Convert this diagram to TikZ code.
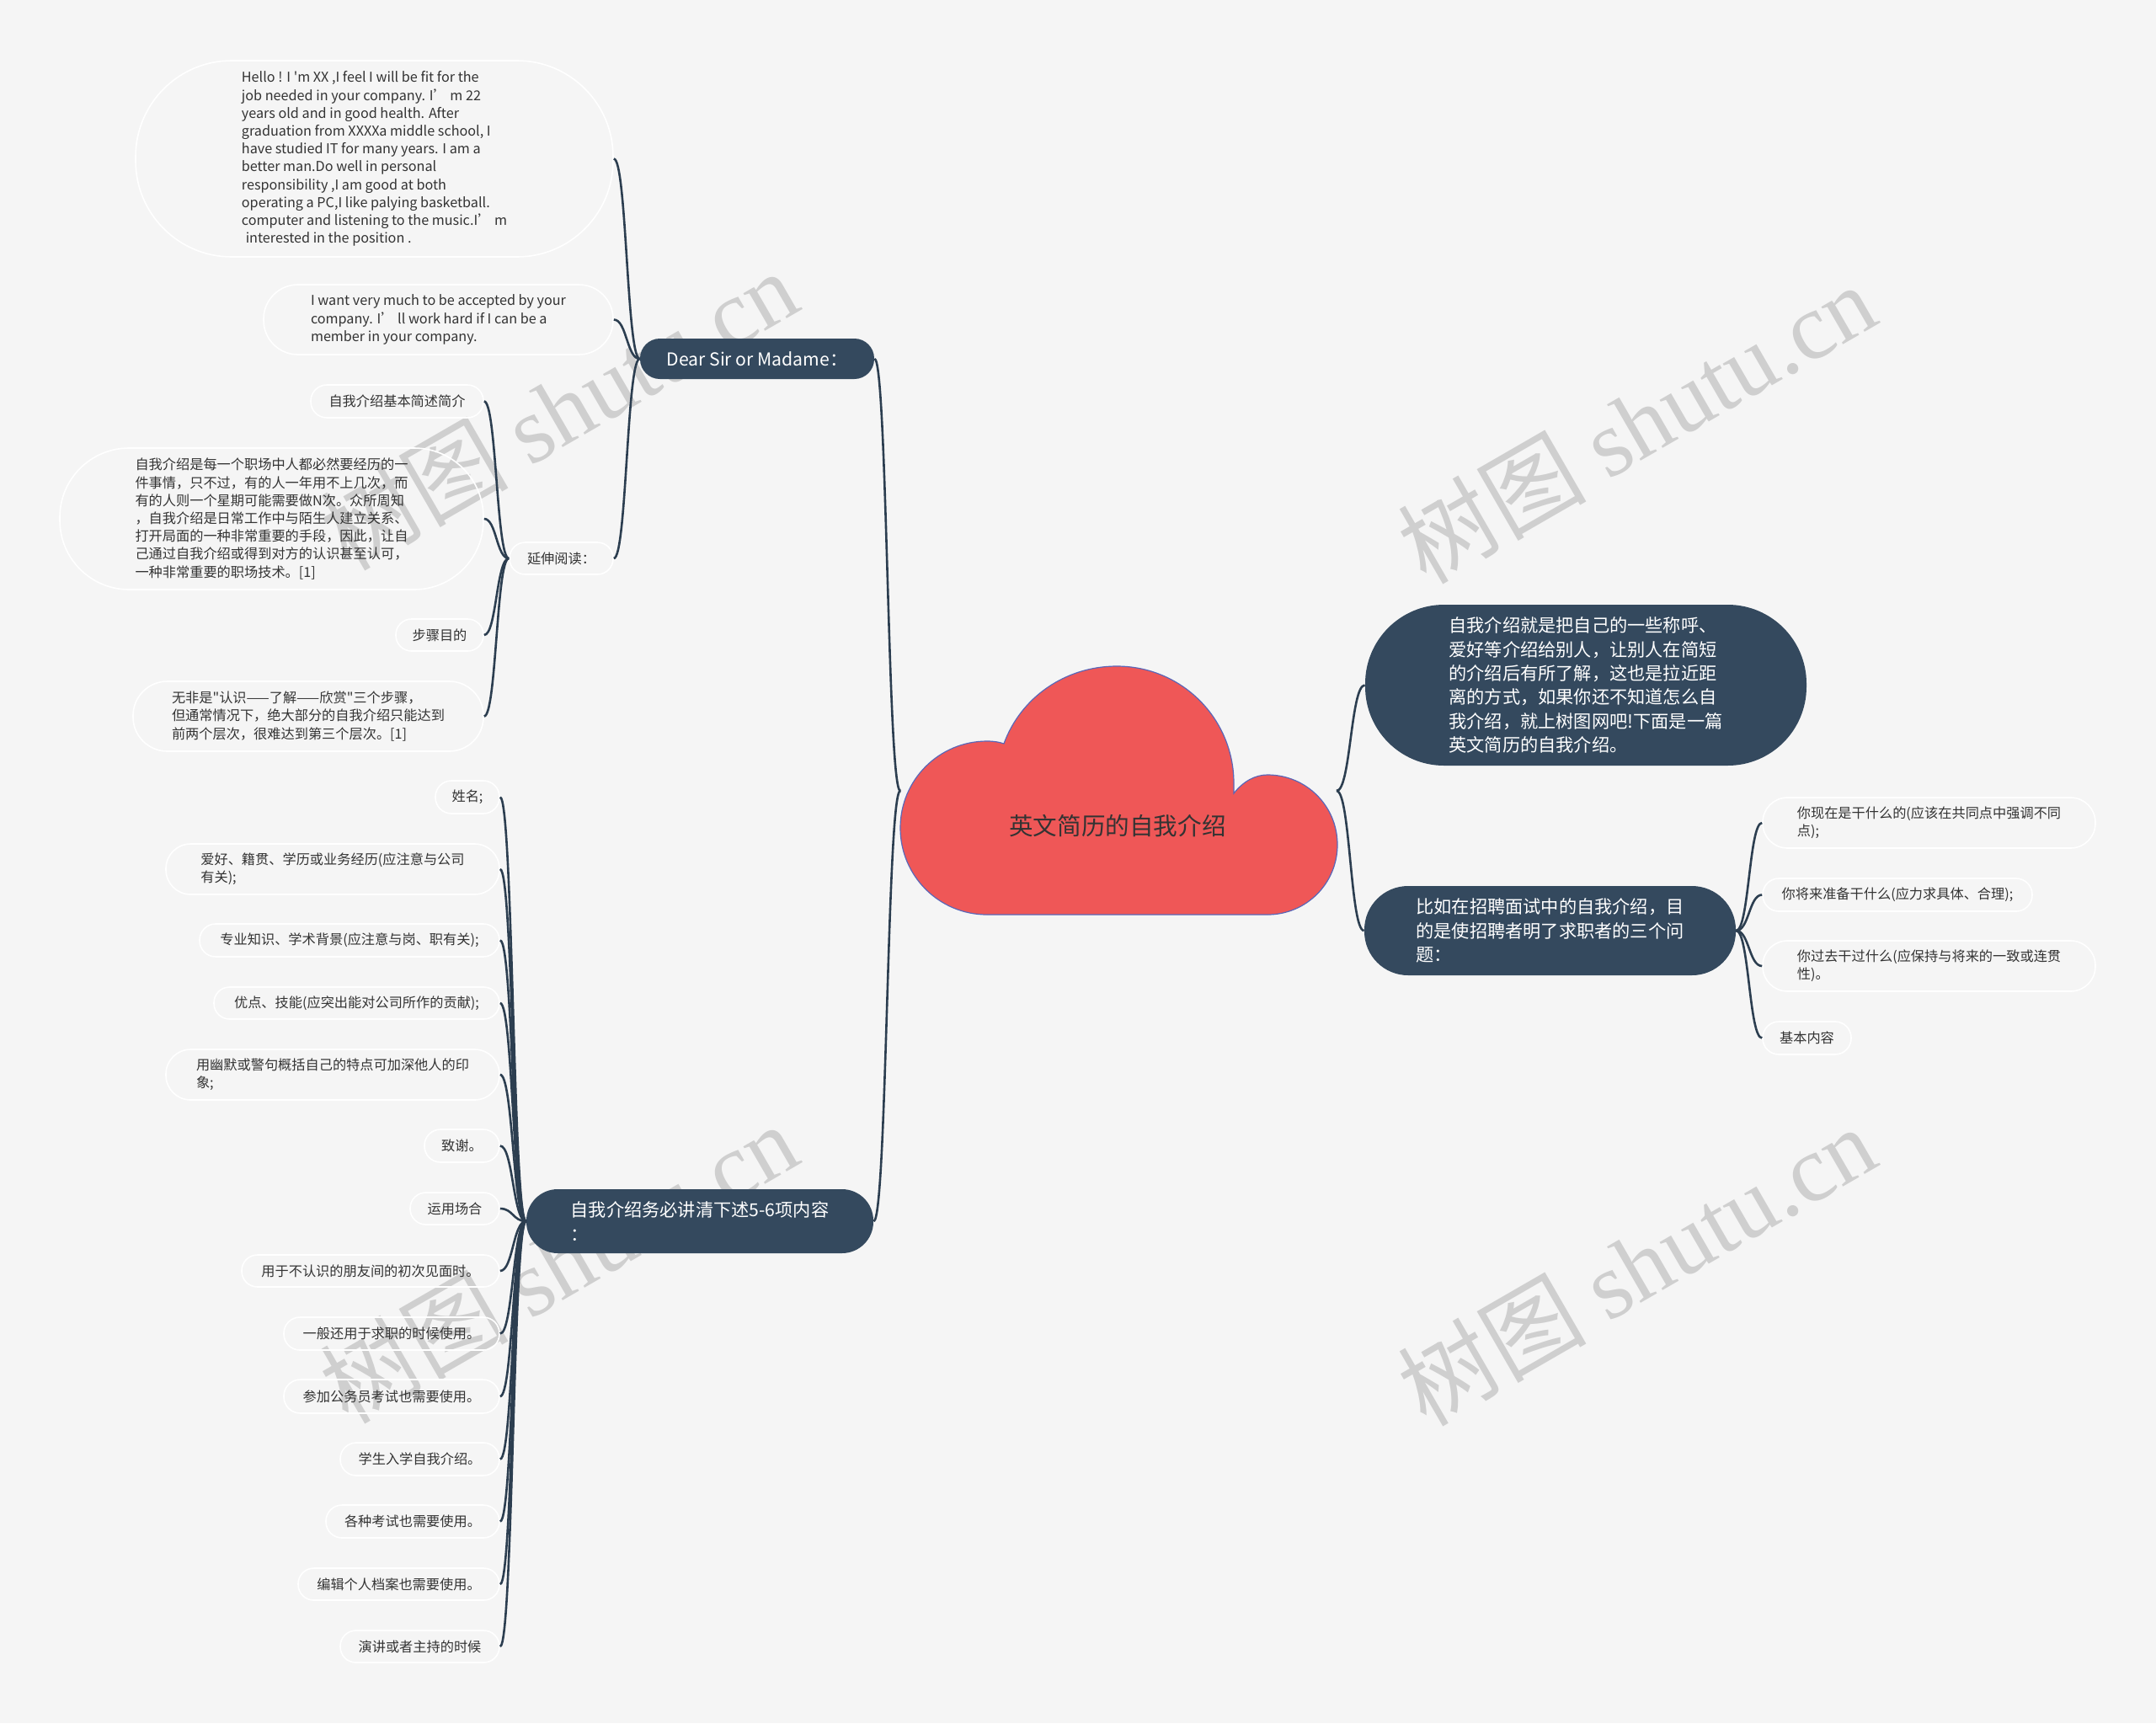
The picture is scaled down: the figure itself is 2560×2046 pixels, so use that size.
\documentclass[tikz,border=0pt]{standalone}
\usepackage{fontspec}
\newfontfamily\cjkfont{Noto Sans CJK SC}
\newfontfamily\wmserif{Liberation Serif}
\usetikzlibrary{calc}
\definecolor{bg}{HTML}{F5F5F5}
\definecolor{navy}{HTML}{34495E}
\definecolor{linec}{HTML}{2C3E50}
\definecolor{cloudred}{HTML}{EF5757}
\definecolor{cloudedge}{HTML}{5A67B8}
\definecolor{txt}{HTML}{333333}
\definecolor{wm}{HTML}{CFCFCF}
\newcommand\conn[2]{\draw[link] let \p1=(#1), \p2=(#2) in (\p1) .. controls ({(\x1+\x2)/2},\y1) and ({(\x1+\x2)/2},\y2) .. (\p2);}
\begin{document}
\begin{tikzpicture}[x=0.5pt,y=-0.5pt,
  link/.style={draw=linec, line width=1.3pt},
  sz/.style 2 args={minimum width={#1*0.5pt}, minimum height={#2*0.5pt}, rounded corners={#2*0.245pt}},
  main/.style={fill=navy, text=white, inner sep=0pt, align=left, font=\cjkfont\fontsize{10.6pt}{14.2pt}\selectfont},
  leaf/.style={draw=white, line width=0.8pt, text=txt, inner sep=0pt, align=left, font=\cjkfont\fontsize{8.1pt}{10.6pt}\selectfont},
  wmark/.style={text=wm, rotate=30, font=\cjkfont\fontsize{56pt}{60pt}\selectfont, inner sep=0pt},
]
\fill[bg] (0,0) rectangle (2560,2046);
\useasboundingbox (0,0) rectangle (2560,2046);

% watermarks
\node[wmark] (wm1) at (663,486) {树图 {\wmserif shutu.cn}};
\node[wmark] (wm2) at (1943,502) {树图 {\wmserif shutu.cn}};
\node[wmark] (wm3) at (663,1499) {树图 {\wmserif shutu.cn}};
\node[wmark] (wm4) at (1943,1502) {树图 {\wmserif shutu.cn}};

% cloud
\draw[fill=cloudred, draw=cloudedge, line width=0.6pt]
  (1172,1086) .. controls (1115,1086) and (1069,1040) .. (1069,983)
  .. controls (1069,926) and (1115,880) .. (1172,880)
  .. controls (1180,880) and (1186,881) .. (1192,883)
  .. controls (1212,828) and (1265,791) .. (1326,791)
  .. controls (1403,791) and (1465,853) .. (1465,930)
  -- (1465,942)
  .. controls (1476,928) and (1490,920) .. (1505,920)
  .. controls (1551,920) and (1588,957) .. (1588,1003)
  .. controls (1588,1049) and (1551,1086) .. (1505,1086) -- cycle;
\node[text=txt, font=\cjkfont\fontsize{14.3pt}{17pt}\selectfont] (root) at (1327,981) {英文简历的自我介绍};
\coordinate (cl) at (1069,939);
\coordinate (cr) at (1587,939);

% right side
\node[main, sz={524}{191}] (r1) at (1883,813.5) {自我介绍就是把自己的一些称呼、\\爱好等介绍给别人，让别人在简短\\的介绍后有所了解，这也是拉近距\\离的方式，如果你还不知道怎么自\\我介绍，就上树图网吧!下面是一篇\\英文简历的自我介绍。};
\node[main, sz={441}{106}] (r2) at (1840.5,1105) {比如在招聘面试中的自我介绍，目\\的是使招聘者明了求职者的三个问\\题：};
\node[leaf, sz={395}{60}] (c1) at (2290.5,977) {你现在是干什么的(应该在共同点中强调不同\\点);};
\node[leaf, sz={320}{39}] (c2) at (2253,1062.5) {你将来准备干什么(应力求具体、合理);};
\node[leaf, sz={395}{60}] (c3) at (2290.5,1147) {你过去干过什么(应保持与将来的一致或连贯\\性)。};
\node[leaf, sz={105}{39}] (c4) at (2145.5,1232.5) {基本内容};

% left side main
\node[main, sz={278}{48}] (l1) at (899,426) {Dear Sir or Madame：};
\node[main, sz={412}{76}] (l2) at (831,1450) {自我介绍务必讲清下述5-6项内容\\：};

% children of l1
\node[leaf, sz={567}{233}] (h) at (444.5,188.5) {Hello ! I 'm XX ,I feel I will be fit for the\\job needed in your company. I’ m 22\\years old and in good health. After\\graduation from XXXXa middle school, I\\have studied IT for many years. I am a\\better man.Do well in personal\\responsibility ,I am good at both\\operating a PC,I like palying basketball.\\computer and listening to the music.I’ m\\\hspace{0.3em}interested in the position .};
\node[leaf, sz={415}{83}] (w) at (520.5,379.5) {I want very much to be accepted by your\\company. I’ ll work hard if I can be a\\member in your company.};
\node[leaf, sz={123}{38}] (ys) at (666.5,663) {延伸阅读：};

% children of ys
\node[leaf, sz={205}{39}] (y1) at (471.5,476.5) {自我介绍基本简述简介};
\node[leaf, sz={503}{168}] (y2) at (322.5,616) {自我介绍是每一个职场中人都必然要经历的一\\件事情，只不过，有的人一年用不上几次，而\\有的人则一个星期可能需要做N次。众所周知\\，自我介绍是日常工作中与陌生人建立关系、\\打开局面的一种非常重要的手段，因此，让自\\己通过自我介绍或得到对方的认识甚至认可，\\一种非常重要的职场技术。[1]};
\node[leaf, sz={104}{38}] (y3) at (522,754) {步骤目的};
\node[leaf, sz={416}{83}] (y4) at (366,850.5) {无非是"认识——了解——欣赏"三个步骤，\\但通常情况下，绝大部分的自我介绍只能达到\\前两个层次，很难达到第三个层次。[1]};

% children of l2
\node[leaf, sz={76}{39}] (k1) at (555,946.5) {姓名;};
\node[leaf, sz={396}{60}] (k2) at (395,1032) {爱好、籍贯、学历或业务经历(应注意与公司\\有关);};
\node[leaf, sz={356}{39}] (k3) at (415,1116.5) {专业知识、学术背景(应注意与岗、职有关);};
\node[leaf, sz={339}{38}] (k4) at (423.5,1191) {优点、技能(应突出能对公司所作的贡献);};
\node[leaf, sz={396}{60}] (k5) at (395,1276) {用幽默或警句概括自己的特点可加深他人的印\\象;};
\node[leaf, sz={89}{39}] (k6) at (548.5,1360.5) {致谢。};
\node[leaf, sz={106}{38}] (k7) at (540,1435) {运用场合};
\node[leaf, sz={306}{38}] (k8) at (440,1509) {用于不认识的朋友间的初次见面时。};
\node[leaf, sz={256}{39}] (k9) at (465,1583.5) {一般还用于求职的时候使用。};
\node[leaf, sz={256}{40}] (k10) at (465,1658) {参加公务员考试也需要使用。};
\node[leaf, sz={189}{39}] (k11) at (498.5,1732.5) {学生入学自我介绍。};
\node[leaf, sz={206}{39}] (k12) at (490,1806.5) {各种考试也需要使用。};
\node[leaf, sz={239}{38}] (k13) at (473.5,1881) {编辑个人档案也需要使用。};
\node[leaf, sz={189}{38}] (k14) at (498.5,1955) {演讲或者主持的时候};

% connectors
\conn{cr}{r1.west}
\conn{cr}{r2.west}
\foreach \c in {c1,c2,c3,c4} {\conn{r2.east}{\c.west}}
\conn{cl}{l1.east}
\conn{cl}{l2.east}
\foreach \c in {h,w,ys} {\conn{l1.west}{\c.east}}
\foreach \c in {y1,y2,y3,y4} {\conn{ys.west}{\c.east}}
\foreach \c in {k1,k2,k3,k4,k5,k6,k7,k8,k9,k10,k11,k12,k13,k14} {\conn{l2.west}{\c.east}}
\end{tikzpicture}
\end{document}
